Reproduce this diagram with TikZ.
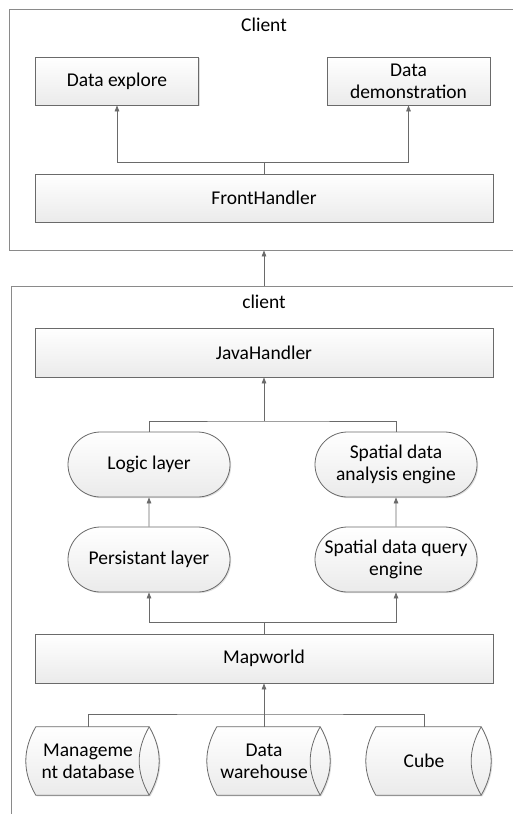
\documentclass[tikz,border=0pt]{standalone}
\usepackage{fontspec}
\setmainfont{Carlito}
\usetikzlibrary{arrows.meta, shapes.misc, shadows, backgrounds, calc, positioning}
\tikzset{> = {Triangle[length = 6pt, width = 4.6pt]}}
\definecolor{edgegray}{HTML}{6A6A6A}
\definecolor{framegray}{HTML}{8A8A8A}

\begin{document}
\begin{tikzpicture}[x = 1pt, y = -1pt,
    font = \fontsize{19.5}{22}\selectfont,
    shaded/.style = {draw = edgegray, line width = 0.8pt, top color = white, bottom color = gray!16,
        drop shadow = {shadow xshift = 1.2pt, shadow yshift = -1.2pt, opacity = 0.25}},
    boxbase/.style = {shaded, align = center, inner sep = 0pt},
    module/.style = {boxbase, rectangle, minimum width = 163pt, minimum height = 48pt},
    handler/.style = {boxbase, rectangle, minimum width = 458pt, minimum height = 48pt},
    layer/.style = {boxbase, rounded rectangle, minimum width = 162pt, minimum height = 65pt},
    store/.style = {rectangle, align = center, inner sep = 0pt, minimum height = 68pt},
    frame/.style = {draw = framegray, line width = 0.9pt, rectangle, inner sep = 0pt},
    link/.style = {draw = edgegray, line width = 0.8pt}]
  \useasboundingbox (0, 0) rectangle (513, 814);
  \clip (0, 0) rectangle (513, 814);

  % containers
  \node [frame, minimum width = 521pt, minimum height = 241pt] (client) at (269.5, 129.5) {};
  \node [frame, minimum width = 519pt, minimum height = 560pt] (server) at (270.5, 566) {};
  \node (clientlabel) at (264, 25) {Client};
  \node (serverlabel) at (264, 302) {client};

  % client side
  \node [module] (explore) at (117, 81) {Data explore};
  \node [module] (demo) at (408.5, 81) {Data\\demonstration};
  \node [handler] (front) at (264, 198) {FrontHandler};

  % server side
  \node [handler, minimum height = 49pt] (java) at (264, 352.5) {JavaHandler};
  \node [layer] (logic) at (149, 464.5) {Logic layer};
  \node [layer] (analysis) at (396, 464.5) {Spatial data\\analysis engine};
  \node [layer] (persist) at (149, 559.5) {Persistant layer};
  \node [layer] (query) at (396, 559.5) {Spatial data query\\engine};
  \node [handler, minimum height = 49pt] (map) at (264, 658.5) {Mapworld};
  \node [store, minimum width = 113pt] (mgmt) at (88, 761) {Manageme\\nt database};
  \node [store, minimum width = 103pt] (warehouse) at (264, 761) {Data\\warehouse};
  \node [store, minimum width = 105pt] (cube) at (424, 761) {Cube};

  % storage drums
  \begin{scope}[on background layer]
    \foreach \s in {mgmt, warehouse, cube} {
      \path [shaded] ([xshift = 4.5pt]\s.north west) -- ([xshift = 4.5pt]\s.north east)
        to [bend left = 30] ([xshift = 4.5pt]\s.south east) -- ([xshift = 4.5pt]\s.south west)
        to [bend left = 30] ([xshift = 4.5pt]\s.north west) -- cycle;
      \draw [link] ([xshift = 4.5pt]\s.north east) to [bend right = 30] ([xshift = 4.5pt]\s.south east);
    }
  \end{scope}

  \coordinate (topjoin) at (264, 162);
  \coordinate (midjoin) at (264, 421);
  \coordinate (lowjoin) at (264, 622);
  \coordinate (basejoin) at (264, 714);

  % connectors
  \draw [link, ->] (front.north) -- (topjoin) -| (explore.south);
  \draw [link, ->] (topjoin) -| (demo.south);
  \draw [link, ->] (front |- server.north) -- (front |- client.south);
  \draw [link] (logic.north) |- (midjoin) -| (analysis.north);
  \draw [link, ->] (midjoin) -- (java.south);
  \draw [link, ->] (persist) -- (logic);
  \draw [link, ->] (query) -- (analysis);
  \draw [link, ->] (map.north) -- (lowjoin) -| (persist.south);
  \draw [link, ->] (lowjoin) -| (query.south);
  \draw [link] (mgmt.north) |- (basejoin) -| (cube.north);
  \draw [link] (warehouse.north) -- (basejoin);
  \draw [link, ->] (basejoin) -- (map.south);
\end{tikzpicture}
\end{document}
